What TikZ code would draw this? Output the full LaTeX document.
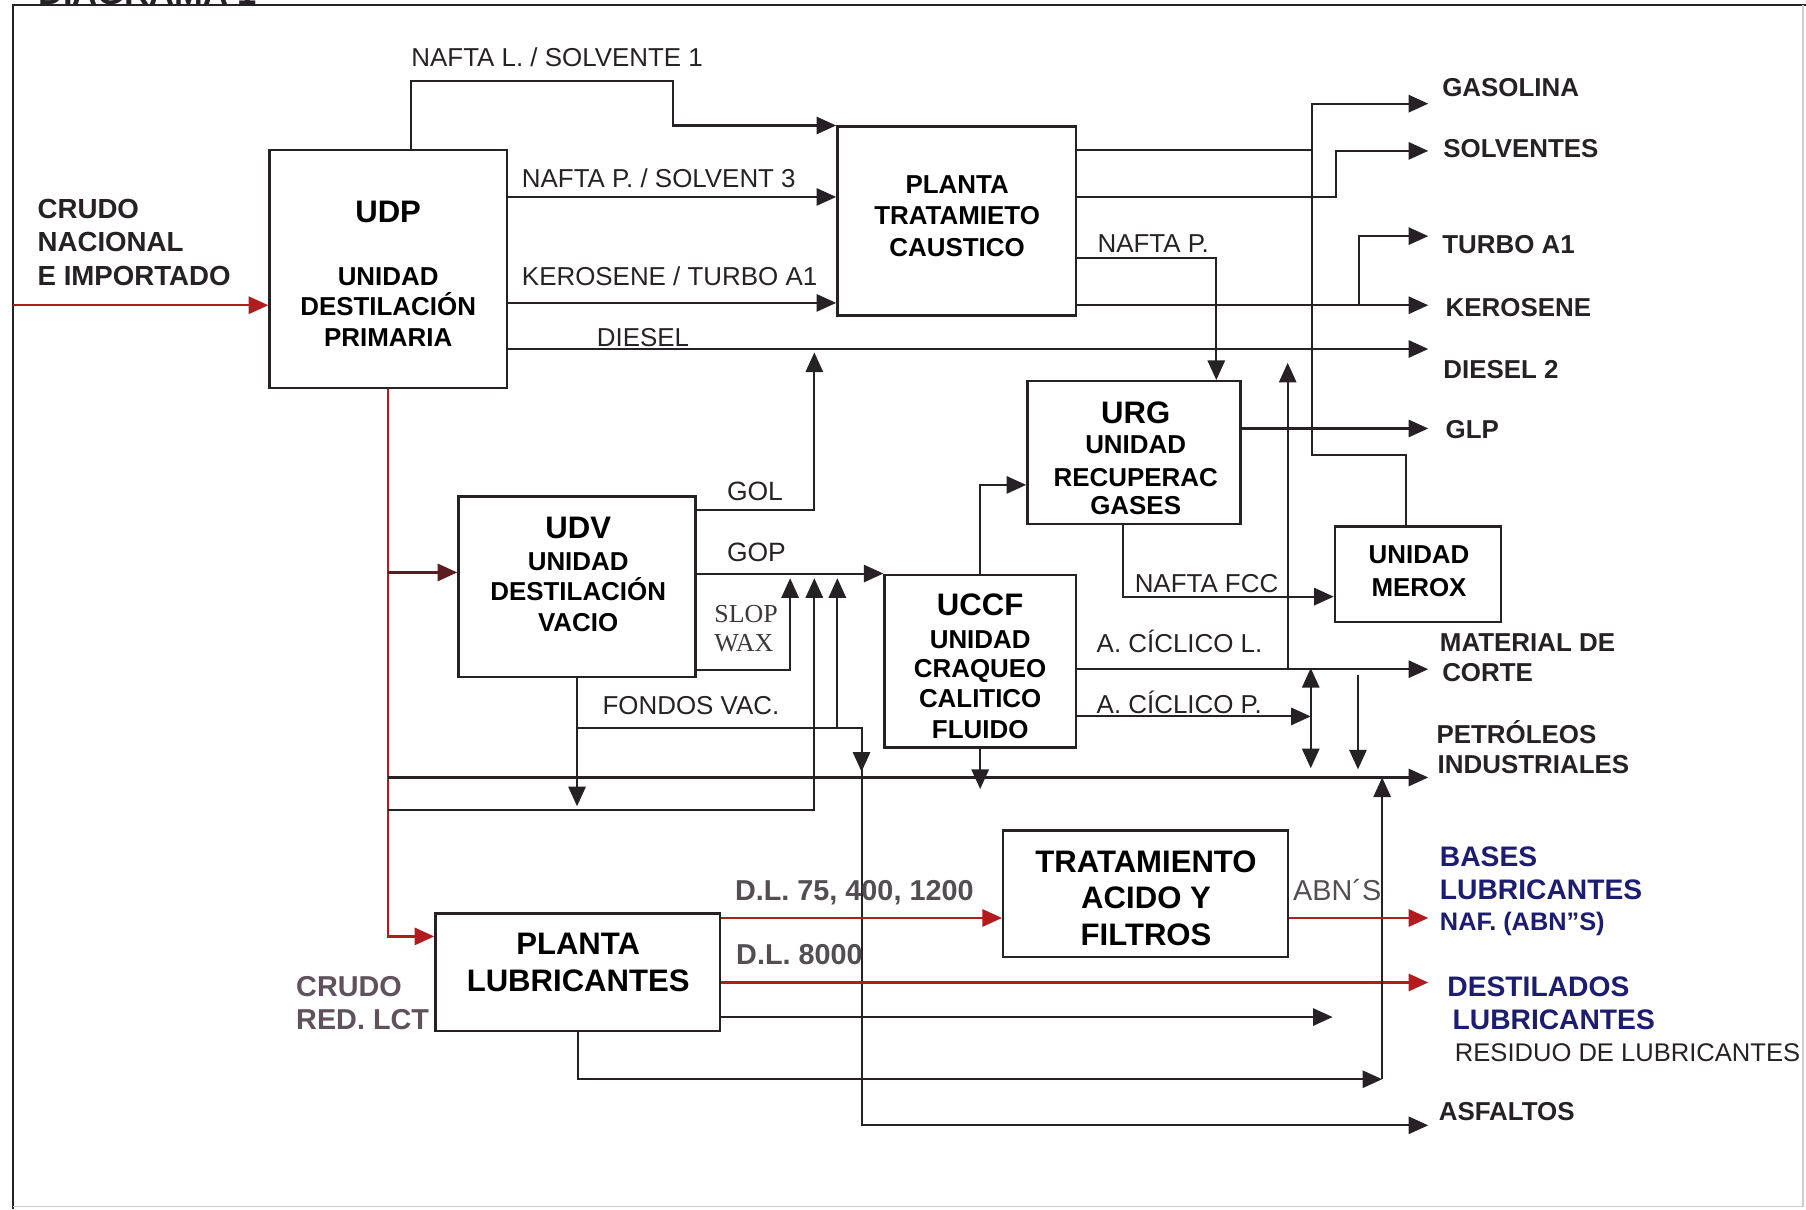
\documentclass[tikz,border=0pt]{standalone}
\usepackage{fontspec}
\setmainfont{Liberation Sans}
\newfontfamily\slopfont{Liberation Serif}
\usetikzlibrary{arrows.meta}
\definecolor{ink}{RGB}{38,33,36}
\definecolor{crude}{RGB}{178,28,30}
\definecolor{crudedark}{RGB}{92,28,32}
\definecolor{navy}{RGB}{28,28,112}
\definecolor{dlgrey}{RGB}{82,78,82}
\definecolor{lctgrey}{RGB}{96,82,92}
\definecolor{framegrey}{RGB}{205,205,205}

\begin{document}
\begin{tikzpicture}[x=1pt,y=-1pt,
  >={Triangle[length=17pt,width=15pt]},
  box/.style={draw=ink, line width=2.1pt, inner sep=0pt},
  conn/.style={draw=ink, line width=1.8pt},
  crudeline/.style={draw=crude, line width=1.9pt},
  boxtxt/.style={inner sep=0pt, anchor=base, text=black, font=\bfseries\fontsize{22.5}{27}\selectfont},
  boxttl/.style={boxtxt, font=\bfseries\fontsize{27}{32}\selectfont},
  lbl/.style={inner sep=0pt, anchor=base west, text=ink, font=\fontsize{22.5}{27}\selectfont},
  outlbl/.style={lbl, font=\bfseries\fontsize{22.5}{27}\selectfont},
  feedlbl/.style={lbl, font=\bfseries\fontsize{24}{29}\selectfont},
  lublbl/.style={lbl, text=navy, font=\bfseries\fontsize{24.5}{29}\selectfont},
  dllbl/.style={lbl, text=dlgrey, font=\bfseries\fontsize{25}{30}\selectfont},
  lctlbl/.style={lbl, text=lctgrey, font=\bfseries\fontsize{25}{30}\selectfont},
  slbl/.style={lbl, text=ink!90, font=\slopfont\fontsize{22.5}{27}\selectfont}
]
\useasboundingbox (0,0) rectangle (1568,1050);
\clip (0,0) rectangle (1568,1050);

% sheet frame and heading
\node[inner sep=0pt, anchor=base west, text=ink, font=\bfseries\fontsize{30}{36}\selectfont] (title) at (33,3.5) {DIAGRAMA 1};
\draw[line width=1.8pt, draw=ink] (11.5,1050) -- (11.5,4.5) -- (1568,4.5);
\draw[line width=1.2pt, draw=framegrey] (1565.5,4.5) -- (1565.5,1047.5) -- (11.5,1047.5);

% process units
\node[box, minimum width=206pt, minimum height=207pt] (udp)   at (337,233.5) {};
\node[box, minimum width=207pt, minimum height=164pt] (pltc)  at (830.5,192) {};
\node[box, minimum width=185pt, minimum height=124pt] (urg)   at (984.5,393) {};
\node[box, minimum width=144pt, minimum height=83pt]  (merox) at (1231,498.5) {};
\node[box, minimum width=206pt, minimum height=157pt] (udv)   at (501,509.5) {};
\node[box, minimum width=166pt, minimum height=150pt] (uccf)  at (851,574) {};
\node[box, minimum width=247pt, minimum height=110pt] (taf)   at (994.5,776) {};
\node[box, minimum width=247pt, minimum height=102pt] (plub)  at (501.5,844) {};

% unit captions
\node[boxttl] (udp-a) at (337,193.3) {UDP};
\node[boxtxt] (udp-b) at (337,247.5) {UNIDAD};
\node[boxtxt] (udp-c) at (337,273.5) {DESTILACIÓN};
\node[boxtxt] (udp-d) at (337,301) {PRIMARIA};

\node[boxtxt] (pltc-a) at (831,167.8) {PLANTA};
\node[boxtxt] (pltc-b) at (831,195.3) {TRATAMIETO};
\node[boxtxt] (pltc-c) at (831,222.9) {CAUSTICO};

\node[boxttl] (urg-a) at (986,367.5) {URG};
\node[boxtxt] (urg-b) at (986,394) {UNIDAD};
\node[boxtxt] (urg-c) at (986,422) {RECUPERAC};
\node[boxtxt] (urg-d) at (986,447) {GASES};

\node[boxtxt] (merox-a) at (1232,489) {UNIDAD};
\node[boxtxt] (merox-b) at (1232,517.5) {MEROX};

\node[boxttl] (udv-a) at (502,467.4) {UDV};
\node[boxtxt] (udv-b) at (502,495) {UNIDAD};
\node[boxtxt] (udv-c) at (502,521.5) {DESTILACIÓN};
\node[boxtxt] (udv-d) at (502,548.4) {VACIO};

\node[boxttl] (uccf-a) at (851,534) {UCCF};
\node[boxtxt] (uccf-b) at (851,563) {UNIDAD};
\node[boxtxt] (uccf-c) at (851,588) {CRAQUEO};
\node[boxtxt] (uccf-d) at (851,614) {CALITICO};
\node[boxtxt] (uccf-e) at (851,641) {FLUIDO};

\node[boxttl] (taf-a) at (995,757.7) {TRATAMIENTO};
\node[boxttl] (taf-b) at (995,788.6) {ACIDO Y};
\node[boxttl] (taf-c) at (995,820.5) {FILTROS};

\node[boxttl] (plub-a) at (502,829) {PLANTA};
\node[boxttl] (plub-b) at (502,861) {LUBRICANTES};

% feed and product end points
\coordinate (feed) at (11.5,265);
\coordinate (oGas) at (1240,90);
\coordinate (oSol) at (1240,131);
\coordinate (oTur) at (1240,205);
\coordinate (oKer) at (1240,265);
\coordinate (oDie) at (1240,303);
\coordinate (oGlp) at (1240,372);
\coordinate (oMat) at (1240,581);
\coordinate (oPet) at (1240,675);
\coordinate (oBas) at (1240,797);
\coordinate (oDes) at (1240,853);
\coordinate (oAsf) at (1240,977);
\coordinate (jTur) at (1180,265);
\coordinate (jRes) at (1200,937);

% crude feed
\draw[crudeline,->] (feed) -- (udp.west |- feed);
\node[feedlbl] (crudo1) at (32.5,189.5) {CRUDO};
\node[feedlbl] (crudo2) at (32.5,218.5) {NACIONAL};
\node[feedlbl] (crudo3) at (32.5,247.5) {E IMPORTADO};

% UDP products
\draw[conn,->] (udp.north -| 357,0) |- (584,70) |- (pltc.north west);
\draw[conn,->] (udp.east |- 0,171) -- (pltc.west |- 0,171);
\draw[conn,->] (udp.east |- 0,263) -- (pltc.west |- 0,263);
\draw[conn,->] (udp.east |- 0,303) -- (oDie);
\node[lbl] (l-nl) at (357,57.3) {NAFTA L. / SOLVENTE 1};
\node[lbl] (l-np) at (453,162.6) {NAFTA P. / SOLVENT 3};
\node[lbl] (l-kt) at (453,248) {KEROSENE / TURBO A1};
\node[lbl] (l-di) at (518,301) {DIESEL};

% caustic treating products
\draw[conn] (pltc.east |- 0,130) -- (1139,130);
\draw[conn,->] (merox.north -| 1221,0) |- (1139,395) |- (oGas);
\draw[conn,->] (pltc.east |- 0,171) -| (1160,131) -- (oSol);
\draw[conn,->] (pltc.east |- 0,224) -| (urg.north -| 1056,0);
\draw[conn,->] (pltc.east |- 0,265) -- (oKer);
\draw[conn,->] (jTur) |- (oTur);
\node[lbl] (l-np2) at (952.7,219.4) {NAFTA P.};

% gas recovery
\draw[conn,->] (urg.east |- 0,372) -- (oGlp);
\draw[conn,->] (urg.south -| 975,0) |- (merox.west |- 0,518);
\node[lbl] (l-fcc) at (985,514.6) {NAFTA FCC};

% crude distribution line
\draw[crudeline,->] (udp.south) |- (plub.west |- 0,813);
\draw[draw=crudedark, line width=1.9pt,->] (337,497) -- (udv.west |- 0,497);
\draw[conn,->] (337,675) -- (oPet);
\draw[conn,->] (337,703) -| (707,502);

% vacuum unit products
\draw[conn,->] (udv.east |- 0,443) -| (707,306);
\draw[conn,->] (udv.east |- uccf.north west) -- (uccf.north west);
\draw[conn,->] (udv.east |- 0,582) -| (686,502);
\draw[conn,->] (udv.south) -- (501,700);
\draw[conn,->] (501,632) -| (748,977) -- (oAsf);
\draw[conn,->] (748,640) -- (748,670);
\draw[conn,->] (727,632) -- (727,502);
\node[lbl, font=\fontsize{23}{27}\selectfont] (l-gol) at (631,434.7) {GOL};
\node[lbl, font=\fontsize{23}{27}\selectfont] (l-gop) at (631,487.6) {GOP};
\node[slbl] (l-slop) at (620,540.6) {SLOP};
\node[slbl] (l-wax) at (620,565.8) {WAX};
\node[lbl] (l-fv) at (523,620) {FONDOS VAC.};

% catalytic cracking products
\draw[conn,->] (uccf.north) |- (urg.west |- 0,421);
\draw[conn,->] (uccf.south) -- ++(0,35);
\draw[conn,->] (uccf.east |- 0,581) -- (oMat);
\draw[conn,->] (1118,581) -- (1118,315);
\draw[conn,->] (uccf.east |- 0,622) -- (1138,622);
\draw[conn,<->] (1138,580) -- (1138,667);
\draw[conn,->] (1179,586) -- (1179,668);
\node[lbl] (l-acl) at (952,566.7) {A. CÍCLICO L.};
\node[lbl] (l-acp) at (952,619.3) {A. CÍCLICO P.};

% lubricant plant
\draw[crudeline,->] (plub.east |- 0,797) -- (taf.west |- 0,797);
\draw[crudeline,->] (plub.east |- 0,853) -- (oDes);
\draw[conn,->] (plub.east |- 0,883) -- (1157,883);
\draw[conn,->] (plub.south -| 502,0) |- (jRes);
\draw[conn,->] (jRes) -- (1200,675);
\draw[crudeline,->] (taf.east |- 0,797) -- (oBas);
\node[dllbl] (l-dl1) at (638,782) {D.L. 75, 400, 1200};
\node[dllbl] (l-dl2) at (639,837) {D.L. 8000};
\node[lbl, text=dlgrey, font=\fontsize{25}{30}\selectfont] (l-abn) at (1122.6,782) {ABN´S};
\node[lctlbl] (l-lct1) at (257,865.3) {CRUDO};
\node[lctlbl] (l-lct2) at (257,894) {RED. LCT};

% products
\node[outlbl] (p-gas) at (1252,84) {GASOLINA};
\node[outlbl] (p-sol) at (1253,136.6) {SOLVENTES};
\node[outlbl] (p-tur) at (1252,220) {TURBO A1};
\node[outlbl] (p-ker) at (1255,275) {KEROSENE};
\node[outlbl] (p-die) at (1253,328.5) {DIESEL 2};
\node[outlbl] (p-glp) at (1255,380.6) {GLP};
\node[outlbl] (p-mat1) at (1250,565.8) {MATERIAL DE};
\node[outlbl] (p-mat2) at (1252,591.8) {CORTE};
\node[outlbl] (p-pet1) at (1247,645.4) {PETRÓLEOS};
\node[outlbl] (p-pet2) at (1248,671.4) {INDUSTRIALES};
\node[lublbl] (p-bas1) at (1250,752.5) {BASES};
\node[lublbl] (p-bas2) at (1250,780.8) {LUBRICANTES};
\node[lublbl, font=\bfseries\fontsize{22}{27}\selectfont] (p-bas3) at (1250,807.5) {NAF. (ABN"S)};
\node[lublbl] (p-des1) at (1256.5,865.3) {DESTILADOS};
\node[lublbl] (p-des2) at (1261,893.7) {LUBRICANTES};
\node[lbl, font=\fontsize{22.2}{27}\selectfont] (p-res) at (1263,921.8) {RESIDUO DE LUBRICANTES};
\node[outlbl] (p-asf) at (1249,973) {ASFALTOS};
\end{tikzpicture}
\end{document}
